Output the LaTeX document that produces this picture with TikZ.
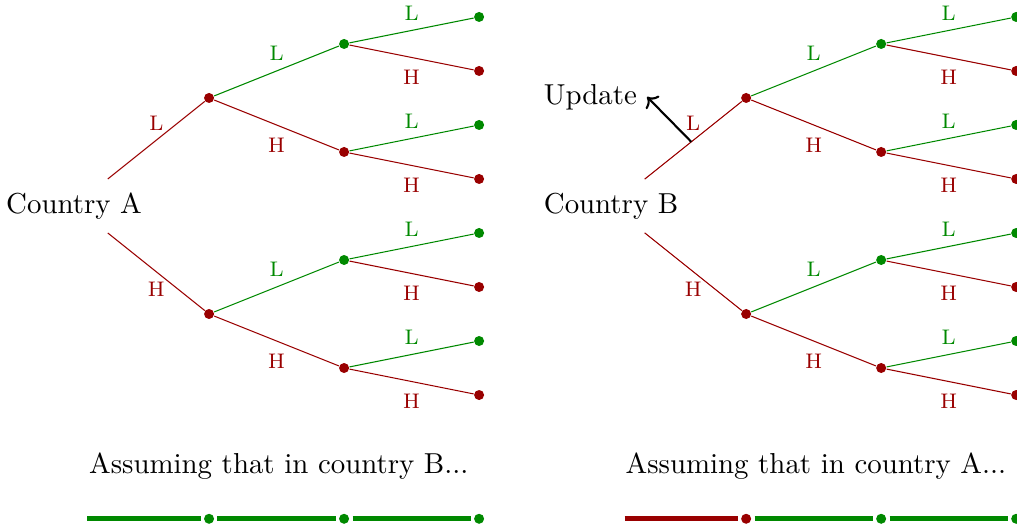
\documentclass[tikz,border=0pt,11pt]{standalone}
\usepackage{tikz}
\usetikzlibrary{arrows.meta, positioning, calc}

\definecolor{lowgreen}{RGB}{0,137,0}
\definecolor{highred}{RGB}{153,0,0}

\begin{document}
\begin{tikzpicture}[
    lbl/.style={font=\scriptsize},
    lowedge/.style={lowgreen},
    highedge/.style={highred},
    lodot/.style={circle, fill=lowgreen, inner sep=0pt, minimum size=3.8pt},
    hidot/.style={circle, fill=highred, inner sep=0pt, minimum size=3.8pt},
    bar/.style={line width=1.8pt, shorten >=1.1pt, shorten <=1.1pt},
]
\useasboundingbox (-0.987,-4.306) rectangle (12.571,2.746);
% === Both trees ===
\foreach \t/\sx in {A/0, B/7.16} {
\begin{scope}[shift={(\sx,0)}]
\node[inner sep=5pt] (\t) at (0,0) {Country \t};
% first period
\node[hidot] (\t1) at (1.8,1.44) {};
\node[hidot] (\t2) at (1.8,-1.44) {};
\draw[highedge] (\t) -- node[lbl, above] {L} (\t1);
\draw[highedge] (\t) -- node[lbl, below] {H} (\t2);
% second period
\foreach \p/\y in {1/1.44, 2/-1.44} {
    \node[lodot] (\t\p1) at (3.6,\y+0.72) {};
    \node[hidot] (\t\p2) at (3.6,\y-0.72) {};
    \draw[lowedge] (\t\p) -- node[lbl, above] {L} (\t\p1);
    \draw[highedge] (\t\p) -- node[lbl, below=1pt] {H} (\t\p2);
}
% third period
\foreach \n/\y in {11/2.16, 12/0.72, 21/-0.72, 22/-2.16} {
    \node[lodot] (\t\n1) at (5.4,\y+0.36) {};
    \node[hidot] (\t\n2) at (5.4,\y-0.36) {};
    \draw[lowedge] (\t\n) -- node[lbl, above] {L} (\t\n1);
    \draw[highedge] (\t\n) -- node[lbl, below=1pt] {H} (\t\n2);
}
\end{scope}
}
% === Update arrow ===
\path (B) -- coordinate[pos=0.48] (upd) (B1);
\draw[->, thick] (upd) -- ++(-0.59,0.60) coordinate (updtip);
\node[left] (update) at (updtip) {Update};
% === Bottom left: country B path ===
\node (assumeA) at (2.73,-3.47) {Assuming that in country B...};
\coordinate (a0) at (0.14,-4.17);
\node[lodot] (a1) at (1.8,-4.17) {};
\node[lodot] (a2) at (3.6,-4.17) {};
\node[lodot] (a3) at (5.4,-4.17) {};
\draw[bar, lowgreen] (a0) -- (a1);
\draw[bar, lowgreen] (a1) -- (a2);
\draw[bar, lowgreen] (a2) -- (a3);
% === Bottom right: country A path ===
\node (assumeB) at (9.89,-3.47) {Assuming that in country A...};
\coordinate (b0) at (7.30,-4.17);
\node[hidot] (b1) at (8.96,-4.17) {};
\node[lodot] (b2) at (10.76,-4.17) {};
\node[lodot] (b3) at (12.56,-4.17) {};
\draw[bar, highred] (b0) -- (b1);
\draw[bar, lowgreen] (b1) -- (b2);
\draw[bar, lowgreen] (b2) -- (b3);
\end{tikzpicture}
\end{document}
